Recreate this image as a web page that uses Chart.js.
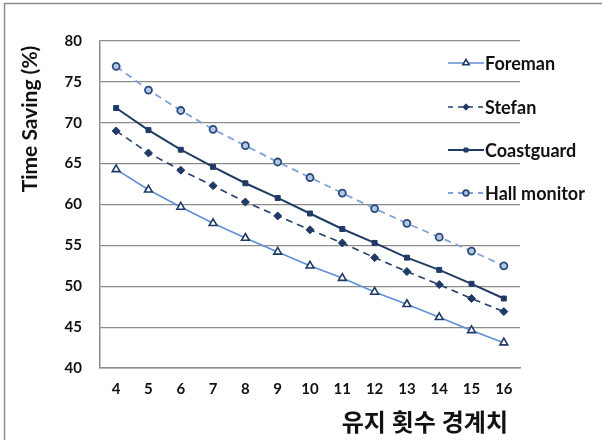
<!DOCTYPE html>
<html><head><meta charset="utf-8">
<script src="https://cdn.jsdelivr.net/npm/chart.js@4/dist/chart.umd.min.js"></script>
<style>html,body{margin:0;padding:0;background:#fff}#wrap{width:602px;height:440px;position:relative}</style>
</head><body><div id="wrap"><canvas id="c" width="602" height="440"></canvas></div>
<script>
const categories = ['4','5','6','7','8','9','10','11','12','13','14','15','16'];
const foreman =     [64.3,61.8,59.7,57.7,55.9,54.2,52.5,51.0,49.3,47.8,46.2,44.6,43.1];
const stefan =      [69.0,66.3,64.2,62.3,60.3,58.6,56.9,55.3,53.5,51.8,50.2,48.5,46.9];
const coastguard =  [71.8,69.1,66.7,64.6,62.6,60.8,58.9,57.0,55.3,53.5,52.0,50.3,48.5];
const hallMonitor = [76.9,74.0,71.5,69.2,67.2,65.2,63.3,61.4,59.5,57.7,56.0,54.3,52.5];
const yTicks = [40,45,50,55,60,65,70,75,80];
const seriesNames = ['Foreman','Stefan','Coastguard','Hall monitor'];
const xTitle = '유지 횟수 경계치';
const yTitle = 'Time Saving (%)';

const FONT = "Lato, 'Noto Sans CJK KR', 'DejaVu Sans', sans-serif";
const NAVY = '#1f3a66';

const datasets = [
  {label: seriesNames[0], data: foreman, borderColor:'#5f8fd3', borderWidth:1.6, borderDash:[],
   pointStyle:'triangle', pointRadius:4.5, pointBackgroundColor:'#ffffff', pointBorderColor:NAVY, pointBorderWidth:1.6},
  {label: seriesNames[1], data: stefan, borderColor:'#233f6a', borderWidth:1.6, borderDash:[7,5],
   pointStyle:'rectRot', pointRadius:4, pointBackgroundColor:NAVY, pointBorderColor:NAVY, pointBorderWidth:1},
  {label: seriesNames[2], data: coastguard, borderColor:'#213c63', borderWidth:2, borderDash:[],
   pointStyle:'rect', pointRadius:3.5, pointBackgroundColor:NAVY, pointBorderColor:NAVY, pointBorderWidth:1},
  {label: seriesNames[3], data: hallMonitor, borderColor:'#7fa3d8', borderWidth:1.8, borderDash:[7,5],
   pointStyle:'circle', pointRadius:3.5, pointBackgroundColor:'#b4c8e6', pointBorderColor:'#2a4a7c', pointBorderWidth:1.8}
];

const extras = {
  id:'extras',
  beforeDraw(chart){
    const ctx = chart.ctx;
    ctx.save();
    ctx.strokeStyle = '#8c8c8c'; ctx.lineWidth = 1.5;
    ctx.beginPath(); ctx.moveTo(4.5, 440); ctx.lineTo(4.5, 3.5); ctx.lineTo(602, 3.5); ctx.stroke();
    ctx.restore();
  },
  afterDraw(chart){
    const ctx = chart.ctx;
    ctx.save();
    // x-axis title
    ctx.fillStyle = '#111'; ctx.font = 'bold 24px ' + FONT;
    ctx.textAlign = 'right'; ctx.textBaseline = 'middle';
    ctx.fillText(xTitle, 508, 423);
    // y-axis title
    ctx.save();
    ctx.translate(30, 119); ctx.rotate(-Math.PI/2);
    ctx.font = 'bold 21px ' + FONT; ctx.textAlign = 'center'; ctx.textBaseline = 'middle';
    ctx.fillText(yTitle, 0, 0);
    ctx.restore();
    // legend
    const ys = [63, 107, 150, 193];
    chart.data.datasets.forEach((ds, i) => {
      const y = ys[i];
      ctx.strokeStyle = ds.borderColor; ctx.lineWidth = ds.borderWidth;
      ctx.setLineDash(ds.borderDash.length ? [5,5] : []);
      ctx.beginPath(); ctx.moveTo(448, y); ctx.lineTo(484, y); ctx.stroke();
      ctx.setLineDash([]);
      ctx.fillStyle = ds.pointBackgroundColor; ctx.strokeStyle = ds.pointBorderColor; ctx.lineWidth = ds.pointBorderWidth;
      Chart.helpers.drawPoint(ctx, {pointStyle: ds.pointStyle, radius: ds.pointRadius*0.8, borderWidth: ds.pointBorderWidth, rotation:0}, 466, y);
      ctx.fillStyle = '#111'; ctx.font = 'bold 18px ' + FONT;
      ctx.textBaseline = 'middle'; ctx.textAlign = 'left';
      ctx.fillText(ds.label, 485, y + 1);
    });
    ctx.restore();
  }
};

new Chart(document.getElementById('c'), {
  type:'line',
  data:{labels: categories, datasets},
  options:{
    responsive:false, animation:false,
    layout:{padding:{left:0, right:82, top:41, bottom:0}},
    plugins:{legend:{display:false}, tooltip:{enabled:false}},
    elements:{line:{tension:0}},
    scales:{
      x:{
        offset:true,
        grid:{display:false, drawTicks:false},
        border:{display:true, color:'#8c8c8c', width:1.5},
        ticks:{color:'#111', font:{family:FONT, size:15, weight:'bold'}, padding:12},
        afterFit(s){ s.height = 72; }
      },
      y:{
        min:40, max:80,
        afterBuildTicks(s){ s.ticks = yTicks.map(v => ({value:v})); },
        grid:{color:'#8c8c8c', lineWidth:1.2, drawTicks:false},
        border:{display:true, color:'#8c8c8c', width:1.5},
        ticks:{color:'#111', font:{family:FONT, size:15, weight:'bold'}, padding:18},
        afterFit(s){ s.width = 100; }
      }
    }
  },
  plugins:[extras]
});
</script></body></html>
